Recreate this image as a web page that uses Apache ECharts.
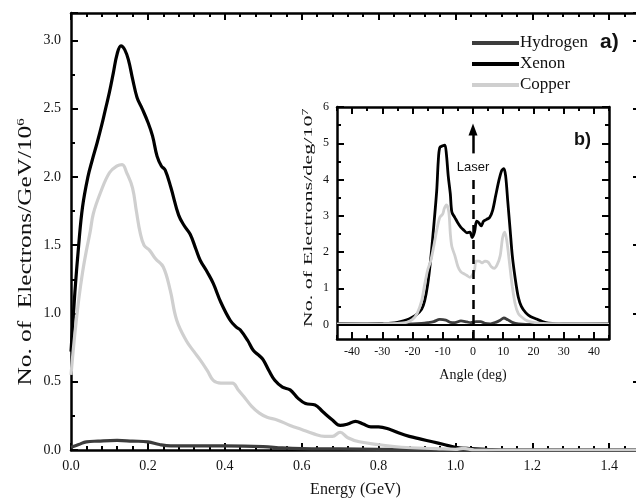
<!DOCTYPE html>
<html>
<head>
<meta charset="utf-8">
<script src="https://cdn.jsdelivr.net/npm/echarts@6/dist/echarts.min.js"></script>
<style>
html,body{margin:0;padding:0;background:#fff;}
#chart{width:636px;height:504px;}
</style>
</head>
<body>
<div id="chart"></div>
<script>
// Energy spectra (GeV, electrons/GeV/10^6)
const hydrogenSpectrum = [
  [0.0,0.02],[0.02,0.04],[0.04,0.06],[0.07,0.065],[0.12,0.07],[0.16,0.065],[0.2,0.06],
  [0.23,0.04],[0.26,0.03],[0.3,0.03],[0.4,0.03],[0.5,0.025],[0.55,0.015],[0.6,0.01],
  [0.7,0.008],[0.8,0.005],[0.9,0.004],[1.0,0.0],[1.48,0.0]
];
const xenonSpectrum = [
  [0.0,0.72],[0.01,1.15],[0.02,1.5],[0.03,1.78],[0.044,2.0],[0.055,2.12],[0.068,2.25],
  [0.08,2.38],[0.09,2.5],[0.1,2.62],[0.11,2.76],[0.12,2.9],[0.13,2.96],[0.14,2.93],
  [0.15,2.85],[0.16,2.72],[0.172,2.58],[0.185,2.5],[0.2,2.4],[0.212,2.3],[0.224,2.15],
  [0.235,2.08],[0.245,2.05],[0.26,1.92],[0.28,1.72],[0.295,1.64],[0.31,1.58],[0.325,1.47],
  [0.336,1.39],[0.355,1.3],[0.37,1.22],[0.39,1.08],[0.414,0.95],[0.43,0.9],[0.44,0.88],
  [0.46,0.8],[0.474,0.73],[0.49,0.69],[0.5,0.66],[0.515,0.58],[0.53,0.51],[0.55,0.46],
  [0.57,0.44],[0.59,0.38],[0.61,0.34],[0.635,0.33],[0.655,0.28],[0.68,0.22],[0.7,0.18],
  [0.72,0.19],[0.74,0.21],[0.76,0.19],[0.78,0.17],[0.8,0.17],[0.83,0.15],[0.857,0.12],
  [0.88,0.1],[0.91,0.08],[0.94,0.06],[0.97,0.04],[1.0,0.02],[1.04,0.01],[1.08,0.005],
  [1.12,0.0],[1.48,0.0]
];
const copperSpectrum = [
  [0.0,0.55],[0.01,0.85],[0.02,1.1],[0.03,1.3],[0.04,1.46],[0.05,1.6],[0.058,1.73],
  [0.076,1.88],[0.1,2.03],[0.12,2.08],[0.133,2.09],[0.145,2.03],[0.16,1.92],[0.17,1.75],
  [0.18,1.59],[0.19,1.5],[0.205,1.46],[0.22,1.4],[0.24,1.34],[0.258,1.17],[0.275,0.95],
  [0.3,0.8],[0.32,0.72],[0.336,0.66],[0.355,0.58],[0.37,0.51],[0.39,0.49],[0.42,0.49],
  [0.435,0.44],[0.45,0.39],[0.47,0.32],[0.49,0.27],[0.51,0.24],[0.536,0.22],[0.57,0.18],
  [0.6,0.15],[0.63,0.12],[0.66,0.1],[0.68,0.1],[0.7,0.13],[0.72,0.09],[0.75,0.06],
  [0.8,0.04],[0.86,0.02],[0.95,0.01],[1.0,0.005],[1.02,0.012],[1.05,0.0],[1.48,0.0]
];

// Angular distributions (deg, electrons/deg/10^7)
const hydrogenAngular = [
  [-45,0.02],[-35,0.02],[-25,0.02],[-20,0.02],[-17,0.03],[-15,0.05],[-13,0.08],[-11,0.14],
  [-9,0.12],[-7.5,0.06],[-6,0.05],[-4,0.1],[-2,0.07],[-0.8,0.05],[1,0.08],[2.5,0.08],
  [4,0.03],[5.8,0.02],[7.5,0.06],[9,0.12],[10.2,0.18],[11.5,0.13],[13,0.06],[15,0.02],
  [20,0.0],[30,0.0],[45,0.0]
];
const xenonAngular = [
  [-45,0.02],[-40,0.02],[-35,0.02],[-30,0.03],[-27,0.04],[-25,0.06],[-23,0.1],[-21,0.16],
  [-19,0.25],[-17,0.42],[-16,0.65],[-15,1.1],[-14,1.8],[-13,2.7],[-12,3.7],[-11.5,4.5],
  [-11,4.88],[-10,4.93],[-9.3,4.95],[-8.8,4.7],[-8.2,4.1],[-7.5,3.6],[-7,3.1],[-6,2.95],
  [-5,2.8],[-4,2.68],[-3,2.6],[-2,2.53],[-1,2.55],[-0.3,2.4],[0.5,2.55],[1.2,2.85],
  [2,2.8],[2.7,2.72],[3.5,2.85],[4.5,2.9],[5.5,2.95],[6.5,3.15],[7.5,3.55],[8.5,3.95],
  [9.5,4.25],[10.2,4.3],[10.8,4.1],[11.5,3.4],[12.3,2.6],[13,1.9],[14,1.25],[15,0.75],
  [16,0.5],[17.5,0.32],[19,0.22],[21,0.15],[23,0.08],[25,0.04],[30,0.02],[35,0.02],
  [40,0.02],[45,0.02]
];
const copperAngular = [
  [-45,0.01],[-30,0.02],[-25,0.03],[-22,0.06],[-20,0.14],[-18.5,0.3],[-17,0.65],[-16,1.1],
  [-15,1.5],[-14,1.75],[-13,2.15],[-12,2.6],[-11,2.95],[-10,3.05],[-9.5,3.2],[-8.8,3.3],
  [-8,3.1],[-7.5,2.5],[-7,2.15],[-6,1.9],[-5,1.6],[-4,1.45],[-3,1.4],[-2,1.35],[-1,1.3],
  [-0.3,1.35],[0.5,1.5],[1,1.75],[2,1.75],[3,1.7],[4,1.75],[5,1.72],[6,1.6],[7,1.55],
  [8,1.65],[9,1.9],[9.8,2.4],[10.5,2.55],[11.2,2.3],[12,1.75],[13,1.05],[14,0.55],
  [15,0.3],[16.5,0.18],[18,0.1],[20,0.06],[23,0.03],[30,0.02],[45,0.01]
];

// Inset tick positions
const angleMajorTicks = [-40,-30,-20,-10,0,10,20,30,40];
const angleMinorTicks = [-45,-35,-25,-15,-5,5,15,25,35,45];
const countMajorTicks = [0,1,2,3,4,5,6];
const countMinorTicks = [0.5,1.5,2.5,3.5,4.5,5.5];

const seriesNames = ['Hydrogen','Xenon','Copper'];
const seriesColors = {Hydrogen:'#3d3d3d', Xenon:'#000000', Copper:'#cfcfcf'};

const serif = '"Liberation Serif","Times New Roman",serif';
const sans = '"Liberation Sans",Arial,sans-serif';
const axisLine = {show:true, onZero:false, lineStyle:{color:'#000', width:2.5}};
const noLine = {show:false, onZero:false};

function insetX(pos, ticks, isMajor, extra) {
  return Object.assign({
    type:'value', gridIndex:1, position:pos, min:-45, max:45,
    axisLine: isMajor ? axisLine : noLine,
    axisTick:{show:true, inside:true, length:isMajor?7:4, customValues:ticks,
              lineStyle:{color:'#000', width:2}},
    axisLabel:{show:false}, splitLine:{show:false}
  }, extra || {});
}
function insetY(pos, ticks, isMajor, extra) {
  return Object.assign({
    type:'value', gridIndex:1, position:pos, min:-0.4, max:6,
    axisLine: isMajor ? axisLine : noLine,
    axisTick:{show:true, inside:true, length:isMajor?7:4, customValues:ticks,
              lineStyle:{color:'#000', width:2}},
    axisLabel:{show:false}, splitLine:{show:false}
  }, extra || {});
}

const mainTick = {show:true, inside:true, length:7, lineStyle:{color:'#000', width:2}};
const mainMinor = {show:true, length:4, lineStyle:{color:'#000', width:2}};

const option = {
  animation:false,
  backgroundColor:'#fff',
  legend:{
    data:seriesNames, orient:'vertical', left:467, top:29,
    icon:'rect', itemWidth:47, itemHeight:4, itemGap:3,
    textStyle:{fontFamily:serif, fontSize:17, lineHeight:18, color:'#111', padding:[0,0,0,-4]}
  },
  grid:[
    {left:71, top:13, right:-4, bottom:54, outerBoundsMode:'none', containLabel:false},
    {left:337, top:107, right:27, bottom:165, outerBoundsMode:'none', containLabel:false}
  ],
  xAxis:[
    {type:'value', gridIndex:0, position:'bottom', min:0, max:1.48, interval:0.2,
     axisLine:axisLine, axisTick:mainTick,
     minorTick:Object.assign({splitNumber:5}, mainMinor),
     axisLabel:{fontFamily:serif, fontSize:14, color:'#111', margin:9,
                showMaxLabel:false, formatter:v => v.toFixed(1)},
     splitLine:{show:false},
     name:'Energy (GeV)', nameLocation:'middle', nameGap:32,
     nameTextStyle:{fontFamily:serif, fontSize:16, color:'#111'}},
    {type:'value', gridIndex:0, position:'top', min:0, max:1.48, interval:0.2,
     axisLine:axisLine, axisTick:mainTick,
     minorTick:Object.assign({splitNumber:5}, mainMinor),
     axisLabel:{show:false}, splitLine:{show:false}},
    insetX('bottom', angleMajorTicks, true, {
      axisLabel:{show:true, customValues:angleMajorTicks, fontFamily:serif, fontSize:12,
                 color:'#111', margin:7},
      name:'Angle (deg)', nameLocation:'middle', nameGap:29,
      nameTextStyle:{fontFamily:serif, fontSize:14, color:'#111'}
    }),
    insetX('bottom', angleMinorTicks, false),
    insetX('top', angleMajorTicks, true),
    insetX('top', angleMinorTicks, false)
  ],
  yAxis:[
    {type:'value', gridIndex:0, position:'left', min:0, max:3.2, interval:0.5,
     axisLine:axisLine, axisTick:mainTick,
     minorTick:Object.assign({splitNumber:2}, mainMinor),
     axisLabel:{fontFamily:serif, fontSize:14, color:'#111', margin:10,
                showMaxLabel:false, formatter:v => v.toFixed(1)},
     splitLine:{show:false}},
    {type:'value', gridIndex:0, position:'right', min:0, max:3.2, interval:0.5,
     axisLine:axisLine, axisTick:mainTick,
     minorTick:Object.assign({splitNumber:2}, mainMinor),
     axisLabel:{show:false}, splitLine:{show:false}},
    insetY('left', countMajorTicks, true, {
      axisLabel:{show:true, customValues:countMajorTicks, fontFamily:serif, fontSize:12,
                 color:'#111', margin:8}
    }),
    insetY('left', countMinorTicks, false),
    insetY('right', countMajorTicks, true),
    insetY('right', countMinorTicks, false)
  ],
  graphic:[
    // vertical axis titles, set in a tall narrow serif face
    {type:'text', x:26, y:252, rotation:Math.PI/2, scaleX:1.33,
     style:{text:'No. of  Electrons/GeV/10{sup|6}', font:'19px ' + serif, fill:'#111',
            align:'center', verticalAlign:'middle',
            rich:{sup:{font:'11px ' + serif, fill:'#111', padding:[0,0,9,0]}}}},
    {type:'text', x:309, y:218, rotation:Math.PI/2, scaleX:1.7,
     style:{text:'No. of Electrons/deg/10{sup|7}', font:'13px ' + serif, fill:'#111',
            align:'center', verticalAlign:'middle',
            rich:{sup:{font:'8px ' + serif, fill:'#111', padding:[0,0,7,0]}}}},
    {type:'text', left:600, top:32,
     style:{text:'a)', font:'bold 21px ' + sans, fill:'#111'}},
    {type:'text', left:574, top:131,
     style:{text:'b)', font:'bold 18px ' + sans, fill:'#111'}}
  ],
  series:[
    {name:'Hydrogen', type:'line', xAxisIndex:0, yAxisIndex:0, data:hydrogenSpectrum,
     showSymbol:false, smooth:0.4, lineStyle:{color:seriesColors.Hydrogen, width:3.2},
     itemStyle:{color:seriesColors.Hydrogen}},
    {name:'Xenon', type:'line', xAxisIndex:0, yAxisIndex:0, data:xenonSpectrum,
     showSymbol:false, smooth:0.4, lineStyle:{color:seriesColors.Xenon, width:3.2},
     itemStyle:{color:seriesColors.Xenon}},
    {name:'Copper', type:'line', xAxisIndex:0, yAxisIndex:0, data:copperSpectrum,
     showSymbol:false, smooth:0.4, lineStyle:{color:seriesColors.Copper, width:3.2},
     itemStyle:{color:seriesColors.Copper}},
    {name:'Xenon', type:'line', xAxisIndex:2, yAxisIndex:2, data:xenonAngular,
     showSymbol:false, smooth:0.3, lineStyle:{color:seriesColors.Xenon, width:2.8},
     itemStyle:{color:seriesColors.Xenon},
     markLine:{silent:true, symbol:'none', label:{show:false},
       data:[
         [{coord:[-45,0], lineStyle:{type:'solid', color:'#000', width:2}},
          {coord:[45,0]}],
         [{coord:[0,-0.4], lineStyle:{type:[9,6], color:'#000', width:2.5}},
          {coord:[0,4.1]}],
         [{coord:[0,4.72], symbol:'none', lineStyle:{type:'solid', color:'#000', width:2.5}},
          {coord:[0,5.38], symbol:'triangle', symbolSize:[9,12]}]
       ]},
     markPoint:{silent:true, symbol:'circle', symbolSize:0,
       data:[{coord:[0,4.33], label:{show:true, formatter:'Laser', position:'inside',
              fontFamily:sans, fontSize:13, color:'#111', backgroundColor:'#fff', padding:[1,2]}}]}
    },
    {name:'Hydrogen', type:'line', xAxisIndex:2, yAxisIndex:2, data:hydrogenAngular,
     showSymbol:false, smooth:0.3, lineStyle:{color:seriesColors.Hydrogen, width:2.8},
     itemStyle:{color:seriesColors.Hydrogen}},
    {name:'Copper', type:'line', xAxisIndex:2, yAxisIndex:2, data:copperAngular,
     showSymbol:false, smooth:0.3, lineStyle:{color:seriesColors.Copper, width:2.8},
     itemStyle:{color:seriesColors.Copper}}
  ]
};

const chart = echarts.init(document.getElementById('chart'), null, {renderer:'canvas'});
chart.setOption(option);
</script>
</body>
</html>
